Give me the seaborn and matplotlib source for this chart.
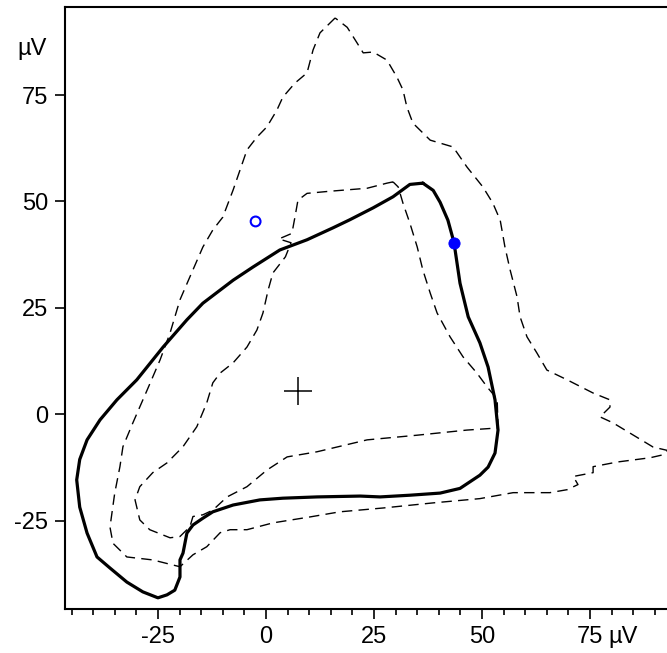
#!/bin/env python3

"""
Vector loop plot (solid loop, two dashed reference loops, markers)
"""

import pandas as pd
import matplotlib.pyplot as plt
from matplotlib.ticker import MultipleLocator
import seaborn as sns
sns.set_style('white')
plt.rcParams['font.family'] = ['Liberation Sans', 'DejaVu Sans']
plt.rcParams['text.color'] = 'black'
plt.rcParams['xtick.color'] = 'black'
plt.rcParams['ytick.color'] = 'black'

# solid loop (µV)
solid_x = [36.3, 38.7, 40.3, 42.1, 43.5, 44.9, 46.8, 49.5, 51.4, 53.0, 53.7, 53.0,
           51.4, 49.5, 44.9, 40.3, 33.3, 26.4, 21.8, 11.8, 3.9, -1.4, -7.6, -12.3,
           -14.6, -16.9, -18.3, -19.2, -19.9, -19.9, -21.1, -22.9, -25.0, -28.5,
           -32.2, -36.1, -39.1, -41.4, -43.1, -43.8, -43.1, -41.4, -38.4, -34.5,
           -29.9, -23.8, -18.3, -14.6, -7.6, -3.0, 3.2, 9.5, 15.5, 19.4, 24.8,
           29.4, 33.3, 36.3]
solid_y = [54.3, 52.6, 49.8, 45.6, 40.4, 30.8, 22.9, 16.8, 11.1, 3.4, -3.7, -9.1,
           -12.4, -14.3, -17.4, -18.5, -19.0, -19.4, -19.2, -19.4, -19.7, -20.1,
           -21.3, -22.9, -24.4, -26.0, -27.9, -32.6, -34.2, -38.2, -41.3, -42.4,
           -43.1, -41.7, -39.4, -36.1, -33.5, -27.9, -21.8, -15.4, -10.6, -6.0,
           -1.3, 3.4, 8.1, 15.8, 22.2, 26.1, 31.5, 34.6, 38.6, 41.0, 43.8, 45.7,
           48.5, 51.1, 54.0, 54.3]

# outer dashed loop
outer_x = [16.0, 12.5, 10.9, 9.5, 6.7, 3.9, 2.5, 0.2, -2.1, -4.4, -6.0, -7.6, -10.0,
           -12.3, -14.6, -17.6, -19.9, -22.2, -24.5, -27.5, -30.8, -33.1, -33.8,
           -35.0, -36.1, -35.4, -32.2, -26.2, -21.5, -19.9, -16.9, -13.7, -10.6,
           -8.3, -4.4, 1.6, 10.2, 17.1, 27.1, 38.7, 49.5, 57.2, 65.7, 69.7, 72.2,
           71.1, 75.7, 75.7, 81.3, 88.9, 91.9, 93.0, 89.6, 80.3, 77.3, 79.6, 79.6,
           75.7, 69.7, 65.0, 62.7, 60.4, 58.8, 58.1, 56.5, 55.3, 54.2, 52.5, 50.2,
           46.5, 43.3, 38.0, 34.0, 32.6, 31.7, 30.3, 28.0, 24.8, 22.5, 21.1, 18.8,
           16.0]
outer_y = [93.1, 89.6, 85.6, 80.2, 77.8, 74.5, 71.4, 67.5, 65.1, 62.1, 57.4, 52.7,
           46.3, 43.3, 39.3, 32.3, 26.9, 19.1, 12.8, 5.7, -2.0, -7.6, -12.3, -18.5,
           -26.5, -30.3, -33.5, -34.2, -35.4, -35.8, -33.0, -31.1, -27.8, -27.1,
           -27.1, -25.5, -24.1, -22.9, -22.0, -20.8, -19.8, -18.4, -18.4, -17.7,
           -16.5, -14.6, -13.7, -12.3, -11.2, -10.2, -9.5, -8.5, -7.7, -2.0, -0.6,
           1.7, 3.4, 5.0, 8.1, 10.4, 14.4, 18.2, 22.9, 27.6, 33.9, 39.3, 45.6,
           49.6, 53.4, 58.1, 62.8, 64.4, 68.4, 72.2, 76.2, 79.2, 83.2, 85.1, 84.9,
           87.2, 90.9, 93.1]

# inner dashed loop
inner_x = [29.4, 28.0, 23.4, 14.8, 9.5, 7.4, 6.7, 6.0, 3.0, 5.8, 4.5, 1.6, 0.5,
           -0.7, -2.1, -4.4, -7.6, -10.6, -12.3, -13.7, -16.0, -19.2, -22.9, -26.2,
           -29.2, -30.3, -29.2, -26.9, -22.2, -19.9, -17.6, -16.9, -14.6, -12.3,
           -9.0, -4.4, 0.2, 4.9, 11.8, 23.4, 35.0, 46.5, 53.7, 53.5, 51.2, 48.8,
           45.6, 42.6, 39.6, 38.0, 36.3, 35.0, 33.3, 31.7, 30.6, 29.4]
inner_y = [54.6, 54.3, 53.1, 52.4, 51.9, 50.3, 46.3, 42.5, 41.2, 40.3, 37.0, 33.2,
           29.2, 23.8, 19.8, 15.8, 12.1, 9.7, 7.4, 2.7, -2.9, -7.6, -11.4, -13.7,
           -17.0, -20.1, -24.8, -27.1, -29.0, -28.7, -26.4, -24.0, -23.6, -22.5,
           -19.4, -17.0, -13.1, -10.0, -8.8, -6.0, -4.9, -3.7, -3.2, 3.6, 6.4, 9.7,
           13.5, 18.2, 23.8, 28.5, 33.9, 39.3, 44.9, 49.6, 53.4, 54.6]

centre = (7.4, 5.5)
open_pt = (-2.4, 45.3)
filled_pt = (43.5, 40.3)

ticks = [-25, 0, 25, 50, 75]
tick_labels = ['-25', '0', '25', '50', '75']


def main():
    fig = plt.figure(figsize=(6.67, 6.53), dpi=100)
    ax = fig.add_axes([0.0975, 0.0669, 0.9025, 0.9219])

    dash = (0, (7.5, 4.5))
    sns.lineplot(x=outer_x, y=outer_y, ax=ax, sort=False, estimator=None,
                 color='black', lw=1.0, linestyle=dash)
    sns.lineplot(x=inner_x, y=inner_y, ax=ax, sort=False, estimator=None,
                 color='black', lw=1.0, linestyle=dash)
    sns.lineplot(x=solid_x, y=solid_y, ax=ax, sort=False, estimator=None,
                 color='black', lw=2.3)

    ax.plot([centre[0]], [centre[1]], marker='+', ms=20, mew=1.1, color='black')
    sns.scatterplot(x=[open_pt[0]], y=[open_pt[1]], ax=ax, s=50,
                    facecolor='none', edgecolor='blue', linewidth=1.5, zorder=5)
    sns.scatterplot(x=[filled_pt[0]], y=[filled_pt[1]], ax=ax, s=65,
                    color='blue', edgecolor='blue', zorder=5)

    ax.set_xlim(-46.5, 92.8)
    ax.set_ylim(-45.8, 95.6)
    ax.set_xticks(ticks)
    ax.set_xticklabels(tick_labels)
    ax.set_yticks(ticks)
    ax.set_yticklabels(tick_labels)
    ax.xaxis.set_minor_locator(MultipleLocator(5))

    ax.tick_params(axis='both', which='major', direction='out', length=7,
                   width=1.2, labelsize=17, color='black', labelcolor='black', pad=5)
    ax.tick_params(axis='x', which='minor', direction='out', length=4,
                   width=1.2, color='black', bottom=True)
    ax.tick_params(axis='both', bottom=True, left=True)

    for side in ['left', 'bottom', 'top']:
        ax.spines[side].set_linewidth(1.5)
        ax.spines[side].set_color('black')
    ax.spines['right'].set_visible(False)

    # unit labels
    ax.text(-0.03, 85.8, 'µV', transform=ax.get_yaxis_transform(),
            ha='right', va='center', fontsize=17, color='black')
    ax.annotate('µV', xy=(79.3, 0), xycoords=('data', 'axes fraction'),
                xytext=(0, -12), textcoords='offset points',
                ha='left', va='top', fontsize=17, color='black')

    fig.savefig('out.png', dpi=100)
    plt.close()


if __name__ == '__main__':
    main()
